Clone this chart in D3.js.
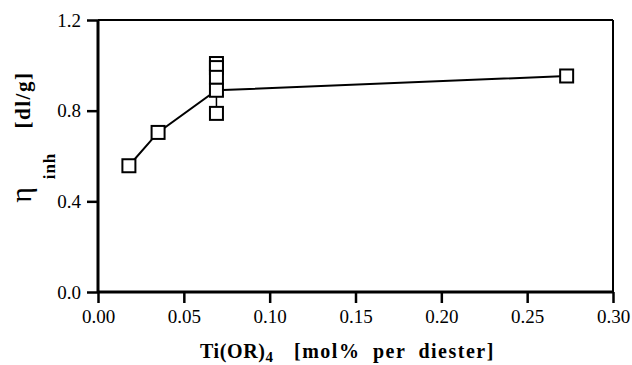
<!DOCTYPE html>
<html>
<head>
<meta charset="utf-8">
<script src="https://cdn.jsdelivr.net/npm/d3@7"></script>
<style>
  body { margin: 0; background: #fff; }
  svg text { font-family: "Liberation Serif", "Times New Roman", serif; fill: #000; }
</style>
</head>
<body>
<div id="chart"></div>
<script>
// main series (connected by the line)
const lineX = [0.018, 0.035, 0.069, 0.273];
const lineY = [0.557, 0.704, 0.890, 0.953];
// replicate runs at the same catalyst amount
const repX = [0.069, 0.069, 0.069, 0.069];
const repY = [1.008, 0.990, 0.947, 0.788];
const xTicks = [0, 0.05, 0.10, 0.15, 0.20, 0.25, 0.30];
const yTicks = [0, 0.4, 0.8, 1.2];

const W = 632, H = 365;
const margin = {top: 20, right: 19, bottom: 73, left: 98};
const width = W - margin.left - margin.right;
const height = H - margin.top - margin.bottom;

const svg = d3.select("#chart")
    .append("svg")
    .attr("width", W)
    .attr("height", H);

const g = svg.append("g")
    .attr("transform", "translate(" + margin.left + "," + margin.top + ")");

const x = d3.scaleLinear().domain([0, 0.30]).range([0, width]);
const y = d3.scaleLinear().domain([0, 1.2]).range([height, 0]);

// frame: top and right
g.append("line").attr("x1", 0).attr("x2", width).attr("y1", 0).attr("y2", 0)
    .attr("stroke", "#000").attr("stroke-width", 2);
g.append("line").attr("x1", width).attr("x2", width).attr("y1", 0).attr("y2", height)
    .attr("stroke", "#000").attr("stroke-width", 2);

// X axis
const xAxis = g.append("g")
    .attr("transform", "translate(0," + height + ")")
    .call(d3.axisBottom(x).tickValues(xTicks).tickFormat(d3.format(".2f"))
        .tickSize(11).tickPadding(7));
// Y axis
const yAxis = g.append("g")
    .call(d3.axisLeft(y).tickValues(yTicks).tickFormat(d3.format(".1f"))
        .tickSize(11).tickPadding(6));

[xAxis, yAxis].forEach(a => {
    a.attr("font-family", "Liberation Serif");
    a.select(".domain").attr("stroke", "#000").attr("stroke-width", 3);
    a.selectAll(".tick line").attr("stroke", "#000").attr("stroke-width", 2.5);
    a.selectAll(".tick text").attr("font-family", "Liberation Serif")
        .attr("font-size", 19).attr("fill", "#000");
});
xAxis.select(".domain").attr("d", "M0,0H" + width);
yAxis.select(".domain").attr("d", "M0," + height + "V0");

// connecting line
const pts = lineX.map((d, i) => ({x: d, y: lineY[i]}));
g.append("path")
    .datum(pts)
    .attr("fill", "none")
    .attr("stroke", "#000")
    .attr("stroke-width", 2)
    .attr("d", d3.line().x(d => x(d.x)).y(d => y(d.y)));

// range line through the replicates
const allRep = repY.concat([lineY[2]]);
g.append("line")
    .attr("x1", x(repX[0])).attr("x2", x(repX[0]))
    .attr("y1", y(d3.min(allRep))).attr("y2", y(d3.max(allRep)))
    .attr("stroke", "#000").attr("stroke-width", 1.5);

// markers
const sq = 13;
const markers = repX.map((d, i) => ({x: d, y: repY[i]})).concat(pts);
g.selectAll("rect.pt")
    .data(markers)
    .enter()
    .append("rect")
    .attr("class", "pt")
    .attr("x", d => x(d.x) - sq / 2)
    .attr("y", d => y(d.y) - sq / 2)
    .attr("width", sq)
    .attr("height", sq)
    .attr("fill", "#fff")
    .attr("stroke", "#000")
    .attr("stroke-width", 2);

// Y label
svg.append("text")
    .attr("transform", "translate(31,195) rotate(-90)")
    .attr("text-anchor", "middle")
    .attr("font-size", 30)
    .text("\u03b7");
svg.append("text")
    .attr("transform", "translate(55,166) rotate(-90)")
    .attr("text-anchor", "middle")
    .attr("font-size", 17)
    .attr("font-weight", "bold")
    .attr("letter-spacing", 1)
    .text("inh");
svg.append("text")
    .attr("transform", "translate(30,100) rotate(-90)")
    .attr("text-anchor", "middle")
    .attr("font-size", 21)
    .attr("font-weight", "bold")
    .attr("letter-spacing", 1.5)
    .text("[dl/g]");

// X label
const xl = svg.append("text")
    .attr("x", 200)
    .attr("y", 358)
    .attr("font-size", 20)
    .attr("font-weight", "bold");
xl.append("tspan").attr("letter-spacing", 0.6).text("Ti(OR)");
xl.append("tspan").attr("dy", 4).attr("font-size", 15).text("4");
xl.append("tspan").attr("dy", -4).attr("x", 294)
    .attr("letter-spacing", 1.5).attr("word-spacing", 6).text("[mol% per diester]");
</script>
</body>
</html>
